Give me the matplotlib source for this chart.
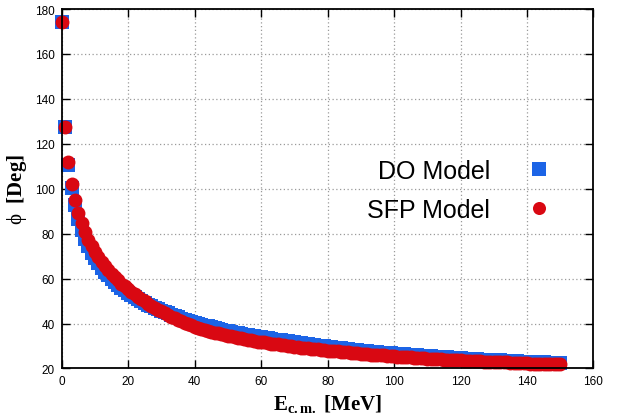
import matplotlib
matplotlib.use('Agg')
import matplotlib.pyplot as plt

# centre-of-mass energies (MeV)
energy = list(range(0, 151))

# DO model phase (deg)
do_model = [
    174.0, 127.3, 110.6, 100.2, 92.6, 86.4, 81.5, 77.6, 74.3, 71.5,
    69.0, 66.8, 64.8, 63.0, 61.4, 59.9, 58.5, 57.2, 56.0, 54.9,
    53.8, 52.8, 51.8, 50.9, 50.0, 49.2, 48.4, 47.7, 47.0, 46.3,
    45.7, 45.1, 44.5, 43.9, 43.3, 42.8, 42.2, 41.7, 41.2, 40.8,
    40.3, 39.9, 39.5, 39.1, 38.7, 38.3, 37.9, 37.6, 37.2, 36.9,
    36.6, 36.3, 36.0, 35.7, 35.4, 35.1, 34.8, 34.6, 34.3, 34.1,
    33.8, 33.6, 33.4, 33.1, 32.9, 32.7, 32.5, 32.3, 32.1, 31.9,
    31.6, 31.4, 31.2, 31.0, 30.8, 30.6, 30.4, 30.2, 30.0, 29.8,
    29.6, 29.4, 29.3, 29.1, 28.9, 28.8, 28.6, 28.4, 28.3, 28.1,
    27.9, 27.8, 27.7, 27.5, 27.4, 27.2, 27.1, 27.0, 26.8, 26.7,
    26.6, 26.5, 26.4, 26.3, 26.1, 26.0, 25.9, 25.8, 25.7, 25.6,
    25.5, 25.4, 25.3, 25.2, 25.1, 25.0, 24.9, 24.8, 24.7, 24.6,
    24.5, 24.4, 24.3, 24.3, 24.2, 24.1, 24.0, 23.9, 23.9, 23.8,
    23.7, 23.6, 23.6, 23.5, 23.4, 23.4, 23.3, 23.2, 23.1, 23.1,
    23.0, 22.9, 22.9, 22.8, 22.7, 22.7, 22.6, 22.6, 22.5, 22.5,
    22.4,
]

# SFP model phase (deg)
sfp_model = [
    174.0, 127.5, 111.9, 102.3, 95.0, 89.4, 84.6, 80.7, 77.4, 74.5,
    71.9, 69.6, 67.5, 65.6, 63.8, 62.2, 60.6, 59.2, 57.8, 56.6,
    55.4, 54.2, 53.1, 52.0, 50.9, 49.9, 48.9, 48.0, 47.1, 46.2,
    45.4, 44.6, 43.8, 43.1, 42.4, 41.7, 41.0, 40.4, 39.8, 39.2,
    38.6, 38.1, 37.6, 37.2, 36.8, 36.4, 36.0, 35.6, 35.3, 34.9,
    34.6, 34.3, 34.0, 33.7, 33.4, 33.1, 32.8, 32.6, 32.3, 32.0,
    31.8, 31.6, 31.3, 31.1, 30.9, 30.7, 30.5, 30.3, 30.1, 29.9,
    29.7, 29.5, 29.3, 29.2, 29.0, 28.8, 28.6, 28.5, 28.3, 28.2,
    28.0, 27.9, 27.7, 27.6, 27.4, 27.3, 27.2, 27.0, 26.9, 26.7,
    26.6, 26.5, 26.4, 26.2, 26.1, 26.0, 25.9, 25.8, 25.6, 25.5,
    25.4, 25.3, 25.2, 25.1, 25.0, 24.9, 24.8, 24.7, 24.6, 24.5,
    24.4, 24.3, 24.2, 24.2, 24.1, 24.0, 23.9, 23.8, 23.8, 23.7,
    23.6, 23.5, 23.5, 23.4, 23.3, 23.3, 23.2, 23.1, 23.0, 23.0,
    22.9, 22.8, 22.8, 22.7, 22.7, 22.6, 22.5, 22.5, 22.4, 22.4,
    22.3, 22.2, 22.2, 22.1, 22.1, 22.0, 22.0, 21.9, 21.9, 21.8,
    21.8,
]

xticks = [0, 20, 40, 60, 80, 100, 120, 140, 160]
yticks = [20, 40, 60, 80, 100, 120, 140, 160, 180]
labels = ['DO Model', 'SFP Model']

blue = '#1c64e6'
red = '#d90812'

plt.rcParams['font.family'] = ['Liberation Sans', 'DejaVu Sans']
plt.rcParams['mathtext.fontset'] = 'custom'
plt.rcParams['mathtext.rm'] = 'Liberation Serif:bold'
plt.rcParams['mathtext.it'] = 'Liberation Serif'
plt.rcParams['mathtext.bf'] = 'Liberation Serif:bold'

fig = plt.figure(figsize=(6.28, 4.14), dpi=100)
ax = fig.add_axes([0.0982, 0.1075, 0.8468, 0.8683])

ax.plot(energy, do_model, 's', color=blue, ms=10, mew=0, zorder=3,
        clip_on=False)
ax.plot(energy, sfp_model, 'o', color=red, ms=10, mew=0, zorder=4,
        clip_on=False)

ax.set_xlim(0, 160)
ax.set_ylim(20, 180)
ax.set_xticks(xticks)
ax.set_yticks(yticks)
ax.tick_params(direction='in', length=5.5, width=1, top=True, right=True,
               labelsize=8.5, pad=5)
ax.grid(True, color='#9a9a9a', linestyle=(0, (1, 2)), linewidth=0.9)
ax.set_axisbelow(True)
for s in ax.spines.values():
    s.set_linewidth(1.3)
    s.set_zorder(5)

ax.set_xlabel(r'$\mathrm{E_{c.m.}\ [MeV]}$', fontsize=15, labelpad=3)
ax.set_ylabel(r'$\phi\ \ \mathbf{[Deg]}$', fontsize=15, labelpad=4)

# key, text right-aligned with the symbol to its right
ax.text(0.805, 0.529, labels[0], transform=ax.transAxes, ha='right',
        va='baseline', fontsize=18)
ax.text(0.805, 0.4206, labels[1], transform=ax.transAxes, ha='right',
        va='baseline', fontsize=18)
ax.plot([0.8975], [0.555], 's', color=blue, ms=9.4, mew=0,
        transform=ax.transAxes)
ax.plot([0.8975], [0.4465], 'o', color=red, ms=9.4, mew=0,
        transform=ax.transAxes)

fig.savefig('out.png', dpi=100)
